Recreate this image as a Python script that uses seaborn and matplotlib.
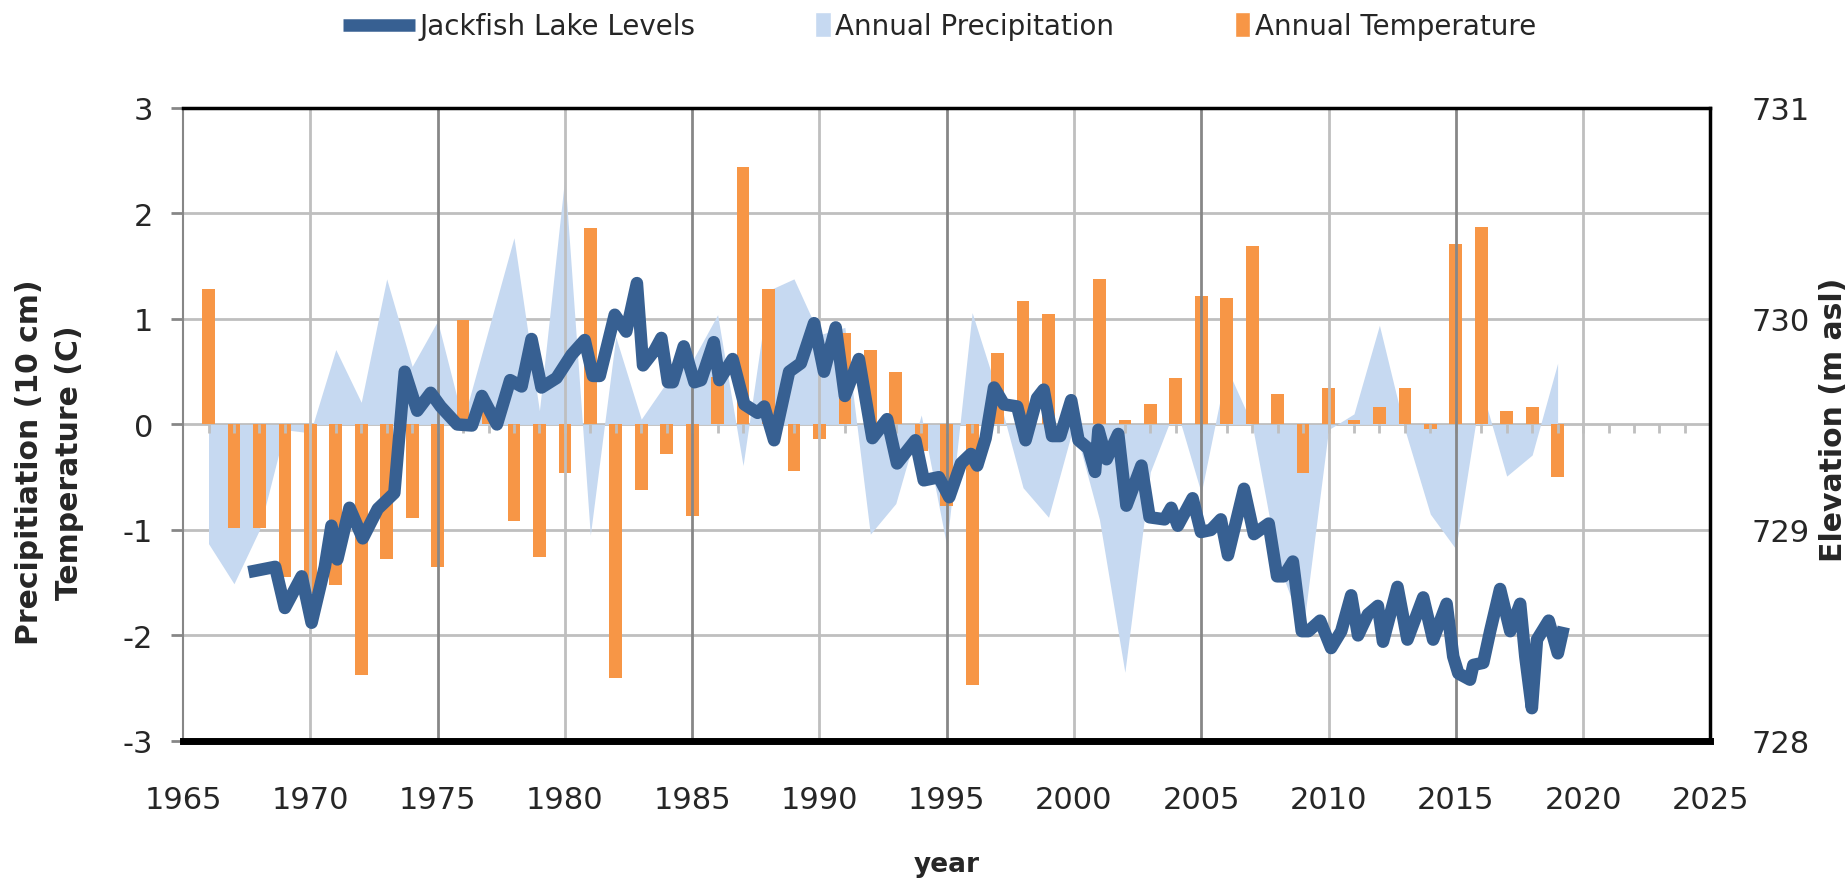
import numpy as np
import pandas as pd
import matplotlib
matplotlib.use('Agg')
import matplotlib.pyplot as plt
import seaborn as sns
from matplotlib.lines import Line2D
from matplotlib.patches import Patch, Rectangle
from matplotlib.legend_handler import HandlerPatch

years = list(range(1966, 2020))

temperature = [1.28, -0.98, -0.98, -1.45, -1.6, -1.52, -2.38, -1.28, -0.89, -1.35,
               0.99, 0.12, -0.92, -1.26, -0.46, 1.86, -2.40, -0.62, -0.28, -0.87,
               0.45, 2.44, 1.28, -0.44, -0.14, 0.87, 0.71, 0.50, -0.25, -0.77,
               -2.47, 0.68, 1.17, 1.05, 0.04, 1.38, 0.04, 0.19, 0.44, 1.22,
               1.20, 1.69, 0.29, -0.46, 0.35, 0.04, 0.17, 0.35, -0.04, 1.71,
               1.87, 0.13, 0.17, -0.50]

precipitation = [-1.13, -1.51, -1.0, -0.05, -0.08, 0.71, 0.21, 1.38, 0.55, 0.98,
                 0.03, 0.9, 1.77, 0.13, 2.35, -1.05, 0.83, 0.05, 0.4, 0.6,
                 1.04, -0.39, 1.27, 1.38, 0.85, 0.92, -1.04, -0.75, 0.09, -1.15,
                 1.06, 0.3, -0.6, -0.88, 0.0, -0.9, -2.35, -0.45, 0.17, -0.65,
                 0.54, 0.0, -1.3, -1.95, -0.05, 0.1, 0.94, -0.05, -0.85, -1.18,
                 0.35, -0.49, -0.29, 0.58]

lake_years = [1967.57, 1968.62, 1969.00, 1969.66, 1970.05, 1970.57, 1970.83, 1971.06,
              1971.54, 1972.06, 1972.65, 1973.30, 1973.71, 1974.20, 1974.73, 1975.12,
              1975.77, 1976.35, 1976.74, 1977.33, 1977.85, 1978.30, 1978.69, 1979.08,
              1979.67, 1980.26, 1980.78, 1981.10, 1981.37, 1981.96, 1982.41, 1982.83,
              1983.07, 1983.52, 1983.79, 1984.05, 1984.24, 1984.67, 1985.09, 1985.35,
              1985.85, 1986.07, 1986.59, 1987.05, 1987.57, 1987.83, 1988.22, 1988.81,
              1989.27, 1989.79, 1990.18, 1990.64, 1991.00, 1991.55, 1992.08, 1992.66,
              1993.05, 1993.77, 1994.10, 1994.69, 1995.10, 1995.56, 1995.95, 1996.20,
              1996.53, 1996.86, 1997.25, 1997.77, 1998.10, 1998.55, 1998.81, 1999.14,
              1999.46, 1999.89, 2000.18, 2000.57, 2000.83, 2000.96, 2001.28, 2001.74,
              2002.06, 2002.65, 2002.97, 2003.56, 2003.82, 2004.08, 2004.66, 2004.99,
              2005.38, 2005.77, 2006.05, 2006.68, 2007.07, 2007.65, 2007.98, 2008.24,
              2008.60, 2008.95, 2009.21, 2009.67, 2010.10, 2010.50, 2010.89, 2011.16,
              2011.55, 2011.94, 2012.14, 2012.71, 2013.10, 2013.72, 2014.11, 2014.64,
              2014.90, 2015.10, 2015.56, 2015.69, 2016.08, 2016.35, 2016.74, 2017.14,
              2017.53, 2017.73, 2017.99, 2018.19, 2018.65, 2019.01, 2019.24]

lake_elev = [728.80, 728.825, 728.63, 728.78, 728.56, 728.825, 729.02, 728.86,
             729.105, 728.96, 729.10, 729.175, 729.75, 729.565, 729.65, 729.585,
             729.50, 729.495, 729.635, 729.50, 729.71, 729.68, 729.905, 729.675,
             729.72, 729.83, 729.90, 729.73, 729.73, 730.02, 729.94, 730.17,
             729.78, 729.85, 729.91, 729.70, 729.70, 729.87, 729.70, 729.71,
             729.89, 729.71, 729.81, 729.595, 729.555, 729.585, 729.425, 729.75,
             729.79, 729.98, 729.75, 729.96, 729.635, 729.81, 729.435, 729.525,
             729.315, 729.425, 729.235, 729.25, 729.155, 729.315, 729.36, 729.305,
             729.435, 729.675, 729.595, 729.585, 729.425, 729.625, 729.665, 729.445,
             729.445, 729.615, 729.425, 729.385, 729.275, 729.475, 729.335, 729.455,
             729.115, 729.305, 729.06, 729.05, 729.105, 729.02, 729.15, 728.99,
             729.00, 729.05, 728.88, 729.195, 728.98, 729.03, 728.78, 728.78,
             728.85, 728.52, 728.52, 728.57, 728.44, 728.52, 728.69, 728.50,
             728.60, 728.64, 728.47, 728.73, 728.48, 728.68, 728.48, 728.65,
             728.40, 728.32, 728.29, 728.36, 728.37, 728.52, 728.72, 728.52,
             728.65, 728.40, 728.155, 728.48, 728.57, 728.415, 728.54]

x_ticks = list(range(1965, 2030, 5))
left_ticks = [-3, -2, -1, 0, 1, 2, 3]
right_ticks = [728, 729, 730, 731]

LAKE = '#376092'
PRECIP = '#C6D9F1'
TEMP = '#F79646'
GRID = '#BFBFBF'
GRID_DARK = '#878787'

sns.set_theme(style='white')
plt.rcParams['font.family'] = ['DejaVu Sans']

df = pd.DataFrame({'year': years, 'temp': temperature, 'precip': precipitation})
lake = pd.DataFrame({'year': lake_years, 'elev': lake_elev})

fig = plt.figure(figsize=(18.49, 8.79), dpi=100)
ax = fig.add_axes([0.099, 0.156, 0.826, 0.720])

ax.fill_between(df['year'], 0, df['precip'], color=PRECIP, lw=0, zorder=1)
sns.barplot(data=df, x='year', y='temp', native_scale=True, width=0.5,
            color=TEMP, saturation=1, linewidth=0, edgecolor=TEMP, ax=ax, zorder=2)

# small year ticks along the zero line
ax.vlines(range(1966, 2025), -0.08, 0, color=GRID, lw=2, zorder=2.4)

for t in x_ticks[1:-1]:
    ax.axvline(t, color=GRID_DARK if t % 10 == 5 else GRID, lw=2, zorder=2.5)

ax.set_xlim(1965, 2025)
ax.set_ylim(-3, 3)
ax.set_xticks(x_ticks)
ax.set_xticklabels([str(t) for t in x_ticks])
ax.set_yticks(left_ticks)
ax.set_yticklabels([str(t) for t in left_ticks])
ax.yaxis.grid(True, color=GRID, lw=2)
ax.xaxis.grid(False)
ax.set_axisbelow(True)
ax.set_xlabel('')
ax.set_ylabel('')
ax.tick_params(axis='x', length=0, pad=32, labelsize=22)
ax.tick_params(axis='y', length=8.6, width=2, color=GRID_DARK, pad=13, labelsize=22)

ax.spines['left'].set_color(GRID_DARK)
ax.spines['left'].set_linewidth(1.5)
ax.spines['top'].set_color('black')
ax.spines['top'].set_linewidth(2.5)
ax.spines['right'].set_color('black')
ax.spines['right'].set_linewidth(2.5)
ax.spines['bottom'].set_color('black')
ax.spines['bottom'].set_linewidth(5)

ax2 = ax.twinx()
sns.lineplot(data=lake, x='year', y='elev', sort=False, estimator=None,
             color=LAKE, lw=9, ax=ax2, zorder=5)
for ln in ax2.lines:
    ln.set_solid_joinstyle('round')
    ln.set_solid_capstyle('butt')
ax2.set_ylim(728, 731)
ax2.set_yticks(right_ticks)
ax2.set_yticklabels([str(t) for t in right_ticks])
ax2.set_xlim(1965, 2025)
ax2.set_xlabel('')
ax2.set_ylabel('')
ax2.tick_params(axis='y', length=0, pad=30, labelsize=22)
for s in ax2.spines.values():
    s.set_visible(False)

fig.text(30 / 1849, 0.474, 'Precipitiation (10 cm)', rotation=90, ha='center', va='center',
         fontsize=21.5, fontweight='bold')
fig.text(70 / 1849, 0.474, 'Temperature (C)', rotation=90, ha='center', va='center',
         fontsize=21.5, fontweight='bold')
fig.text(1834 / 1849, 0.522, 'Elevation (m asl)', rotation=90, ha='center', va='center',
         fontsize=21.5, fontweight='bold')
fig.text(0.512, 0.016, 'year', ha='center', va='center', fontsize=19, fontweight='bold')


def narrow_patch(legend, orig_handle, xdescent, ydescent, width, height, fontsize):
    w = width * 0.22
    return Rectangle((width - w - xdescent, -ydescent - height * 0.15), w, height * 1.3)


handles = [Line2D([0], [0], color=LAKE, lw=9, solid_capstyle='butt'),
           Patch(facecolor=PRECIP),
           Patch(facecolor=TEMP)]
labels = ['Jackfish Lake Levels', 'Annual Precipitation', 'Annual Temperature']
fig.legend(handles, labels, loc='center', bbox_to_anchor=(0.508, 0.969), ncol=3,
           frameon=False, fontsize=20, handlelength=2.6, handletextpad=0.15,
           columnspacing=2.3,
           handler_map={Patch: HandlerPatch(patch_func=narrow_patch)})

fig.savefig('out.png', dpi=100)
